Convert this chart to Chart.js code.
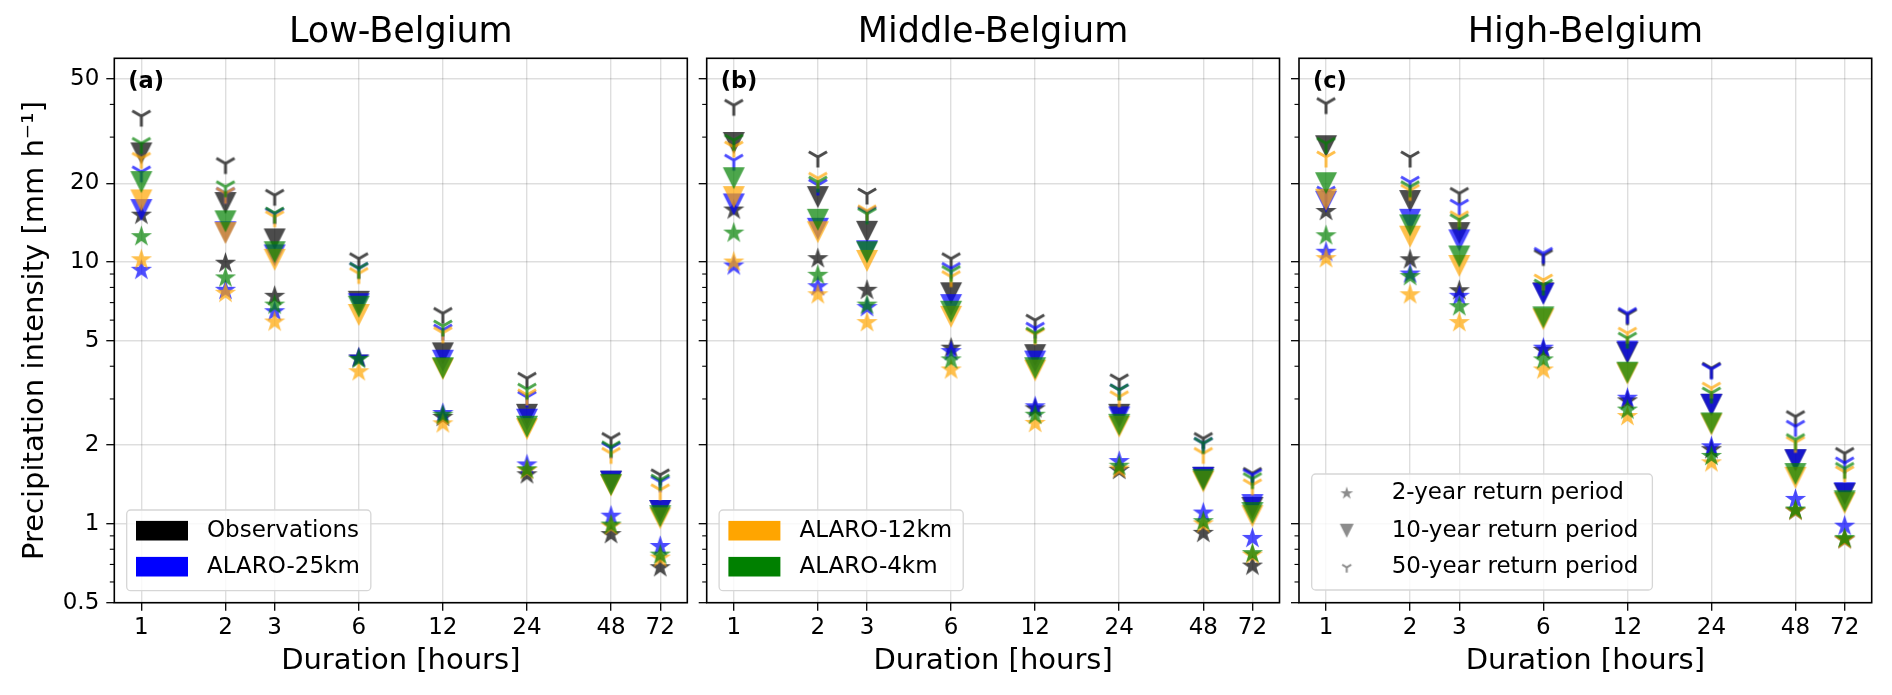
<!DOCTYPE html>
<html>
<head>
<meta charset="utf-8">
<script src="https://cdn.jsdelivr.net/npm/chart.js@4.4.0/dist/chart.umd.min.js"></script>
<style>
html,body{margin:0;padding:0;background:#fff;}
#wrap{position:relative;width:1892px;height:695px;overflow:hidden;background:#fff;}
#wrap canvas{position:absolute;left:0;top:0;}
</style>
</head>
<body>
<div id="wrap">
<canvas id="c1" width="1892" height="695"></canvas>
<canvas id="c2" width="1892" height="695"></canvas>
<canvas id="c3" width="1892" height="695"></canvas>
</div>
<script>
// ---------------- data ----------------
const DURATIONS = [1, 2, 3, 6, 12, 24, 48, 72];
const Y_TICKS = [0.5, 1, 2, 5, 10, 20, 50];
const Y_MINOR_TICKS = [0.6, 0.7, 0.8, 0.9, 3, 4, 6, 7, 8, 9, 30, 40];
const PANEL_TITLES = ['Low-Belgium', 'Middle-Belgium', 'High-Belgium'];
const PANEL_TAGS = ['(a)', '(b)', '(c)'];
const SOURCE_NAMES = ['Observations', 'ALARO-25km', 'ALARO-12km', 'ALARO-4km'];
const RETURN_PERIODS = ['2-year return period', '10-year return period', '50-year return period'];

// Low-Belgium
const LOW_OBS_T2  = [15.1, 9.9, 7.4, 4.3, 2.55, 1.54, 0.91, 0.68];
const LOW_OBS_T10 = [26.0, 16.8, 12.2, 7.05, 4.48, 2.61, 1.45, 1.12];
const LOW_OBS_T50 = [36.1, 23.8, 18.0, 10.3, 6.37, 3.6, 2.12, 1.54];
const LOW_A25_T2  = [9.3, 7.8, 6.46, 4.3, 2.64, 1.68, 1.07, 0.82];
const LOW_A25_T10 = [15.8, 13.0, 10.6, 6.9, 4.2, 2.5, 1.45, 1.12];
const LOW_A25_T50 = [22.1, 18.3, 15.3, 9.46, 5.5, 3.05, 1.95, 1.45];
const LOW_A12_T2  = [10.2, 7.6, 5.9, 3.81, 2.41, 1.6, 0.98, 0.74];
const LOW_A12_T10 = [17.2, 12.9, 10.2, 6.28, 3.9, 2.3, 1.4, 1.05];
const LOW_A12_T50 = [24.9, 18.3, 14.9, 9.05, 5.37, 3.11, 1.86, 1.35];
const LOW_A4_T2   = [12.5, 8.7, 6.85, 4.25, 2.6, 1.61, 0.99, 0.76];
const LOW_A4_T10  = [20.2, 14.3, 10.9, 6.75, 3.93, 2.35, 1.41, 1.07];
const LOW_A4_T50  = [28.4, 19.4, 15.4, 9.46, 5.7, 3.27, 1.97, 1.47];

// Middle-Belgium
const MID_OBS_T2  = [15.8, 10.3, 7.8, 4.69, 2.75, 1.6, 0.92, 0.69];
const MID_OBS_T10 = [28.5, 17.7, 13.05, 7.6, 4.41, 2.61, 1.5, 1.15];
const MID_OBS_T50 = [39.7, 25.2, 18.2, 10.3, 6.0, 3.55, 2.12, 1.56];
const MID_A25_T2  = [9.66, 8.05, 6.7, 4.55, 2.8, 1.73, 1.1, 0.88];
const MID_A25_T10 = [16.6, 13.4, 11.0, 6.85, 4.17, 2.55, 1.5, 1.18];
const MID_A25_T50 = [24.5, 19.7, 15.5, 9.46, 5.59, 3.25, 2.03, 1.54];
const MID_A12_T2  = [10.0, 7.5, 5.87, 3.87, 2.42, 1.62, 1.0, 0.76];
const MID_A12_T10 = [17.7, 13.0, 10.1, 6.18, 3.85, 2.35, 1.45, 1.07];
const MID_A12_T50 = [27.5, 20.9, 15.7, 8.8, 5.3, 3.06, 1.86, 1.41];
const MID_A4_T2   = [12.9, 8.9, 6.85, 4.23, 2.6, 1.66, 1.02, 0.77];
const MID_A4_T10  = [20.9, 14.5, 10.9, 6.46, 3.93, 2.39, 1.47, 1.1];
const MID_A4_T50  = [29.2, 20.2, 15.3, 9.2, 5.35, 3.25, 2.03, 1.49];

// High-Belgium
const HIGH_OBS_T2  = [15.6, 10.2, 7.77, 4.6, 2.95, 1.92, 1.12, 0.87];
const HIGH_OBS_T10 = [27.7, 17.1, 12.9, 7.6, 4.5, 2.85, 1.75, 1.3];
const HIGH_OBS_T50 = [40.3, 25.2, 18.3, 10.6, 6.3, 3.93, 2.57, 1.86];
const HIGH_A25_T2  = [10.9, 9.0, 7.4, 4.69, 3.02, 1.97, 1.24, 0.98];
const HIGH_A25_T10 = [17.0, 14.5, 12.1, 7.56, 4.55, 2.85, 1.75, 1.31];
const HIGH_A25_T50 = [18.5, 20.2, 16.5, 10.8, 6.37, 3.9, 2.36, 1.71];
const HIGH_A12_T2  = [10.3, 7.5, 5.87, 3.87, 2.57, 1.71, 1.12, 0.87];
const HIGH_A12_T10 = [17.3, 12.5, 9.66, 6.05, 3.75, 2.4, 1.5, 1.2];
const HIGH_A12_T50 = [25.2, 18.8, 14.9, 8.54, 5.35, 3.3, 2.05, 1.58];
const HIGH_A4_T2   = [12.6, 8.8, 6.75, 4.23, 2.72, 1.81, 1.13, 0.88];
const HIGH_A4_T10  = [20.0, 13.8, 10.5, 6.15, 3.78, 2.42, 1.55, 1.22];
const HIGH_A4_T50  = [28.4, 19.4, 14.5, 8.17, 5.12, 3.16, 2.1, 1.63];

const PANEL_SERIES = [
  [[LOW_OBS_T2, LOW_OBS_T10, LOW_OBS_T50], [LOW_A25_T2, LOW_A25_T10, LOW_A25_T50],
   [LOW_A12_T2, LOW_A12_T10, LOW_A12_T50], [LOW_A4_T2, LOW_A4_T10, LOW_A4_T50]],
  [[MID_OBS_T2, MID_OBS_T10, MID_OBS_T50], [MID_A25_T2, MID_A25_T10, MID_A25_T50],
   [MID_A12_T2, MID_A12_T10, MID_A12_T50], [MID_A4_T2, MID_A4_T10, MID_A4_T50]],
  [[HIGH_OBS_T2, HIGH_OBS_T10, HIGH_OBS_T50], [HIGH_A25_T2, HIGH_A25_T10, HIGH_A25_T50],
   [HIGH_A12_T2, HIGH_A12_T10, HIGH_A12_T50], [HIGH_A4_T2, HIGH_A4_T10, HIGH_A4_T50]]
];

// ---------------- styles / layout ----------------
const FONT = '"DejaVu Sans", "Liberation Sans", sans-serif';
Chart.defaults.font.family = FONT;
Chart.defaults.color = '#000';

const SOURCE_RGB = [[0,0,0],[0,0,255],[255,165,0],[0,128,0]];
const MARK_ALPHA = 0.7;
const PANEL_LEFT = [114.3, 706.7, 1299.0];
const PANEL_RIGHT = [687.3, 1279.5, 1871.7];
const PLOT_TOP = 58.3, PLOT_BOTTOM = 602.7, W = 1892, H = 695;

function rgba(c, a){ return 'rgba(' + c[0] + ',' + c[1] + ',' + c[2] + ',' + a + ')'; }

function makeStar(color, R){
  const s = Math.ceil(2*R + 4), c = document.createElement('canvas');
  c.width = c.height = s;
  const g = c.getContext('2d'), cx = s/2, cy = s/2;
  g.beginPath();
  for (let i = 0; i < 10; i++) {
    const r = (i % 2) ? R*0.381966 : R, a = -Math.PI/2 + i*Math.PI/5;
    g.lineTo(cx + r*Math.cos(a), cy + r*Math.sin(a));
  }
  g.closePath(); g.fillStyle = color; g.fill();
  return c;
}
function makeTri(color, S){
  const s = Math.ceil(S + 4), c = document.createElement('canvas');
  c.width = c.height = s;
  const g = c.getContext('2d'), cx = s/2, cy = s/2, h = S/2;
  g.beginPath();
  g.moveTo(cx - h, cy - h); g.lineTo(cx + h, cy - h); g.lineTo(cx, cy + h);
  g.closePath(); g.fillStyle = color; g.fill();
  return c;
}
function makeY(color, h, lw){
  const s = Math.ceil(2*h + lw + 4), c = document.createElement('canvas');
  c.width = c.height = s;
  const g = c.getContext('2d'), cx = s/2, cy = s/2;
  g.strokeStyle = color; g.lineWidth = lw; g.lineCap = 'butt';
  g.beginPath();
  g.moveTo(cx, cy + h); g.lineTo(cx, cy);
  g.moveTo(cx - 0.866*h, cy - 0.5*h); g.lineTo(cx, cy);
  g.lineTo(cx + 0.866*h, cy - 0.5*h);
  g.stroke();
  return c;
}
const MARKERS = SOURCE_RGB.map(rgb => {
  const col = rgba(rgb, MARK_ALPHA);
  return [makeStar(col, 11.2), makeTri(col, 22), makeY(col, 10.5, 3)];
});
const LEGEND_GRAY = 'rgba(128,128,128,0.9)';
const LEGEND_MARKERS = [makeStar(LEGEND_GRAY, 6.8), makeTri(LEGEND_GRAY, 14), makeY(LEGEND_GRAY, 5.2, 2)];

function roundRectPath(ctx, x, y, w, h, r){
  ctx.beginPath();
  ctx.moveTo(x + r, y); ctx.lineTo(x + w - r, y); ctx.arcTo(x + w, y, x + w, y + r, r);
  ctx.lineTo(x + w, y + h - r); ctx.arcTo(x + w, y + h, x + w - r, y + h, r);
  ctx.lineTo(x + r, y + h); ctx.arcTo(x, y + h, x, y + h - r, r);
  ctx.lineTo(x, y + r); ctx.arcTo(x, y, x + r, y, r);
  ctx.closePath();
}

const decorPlugin = {
  id: 'decor',
  afterDraw(chart, args, opts) {
    const ctx = chart.ctx, ca = chart.chartArea, ys = chart.scales.y;
    ctx.save();
    // minor y ticks
    ctx.strokeStyle = '#000'; ctx.lineWidth = 1.1;
    Y_MINOR_TICKS.forEach(v => {
      const py = ys.getPixelForValue(v);
      ctx.beginPath(); ctx.moveTo(ca.left - 4.5, py); ctx.lineTo(ca.left, py); ctx.stroke();
    });
    // frame
    ctx.lineWidth = 1.6; ctx.strokeStyle = '#000';
    ctx.strokeRect(ca.left, ca.top, ca.right - ca.left, ca.bottom - ca.top);
    // panel tag
    ctx.font = 'bold 22.5px ' + FONT; ctx.fillStyle = '#000';
    ctx.textAlign = 'left'; ctx.textBaseline = 'middle';
    ctx.fillText(opts.tag, ca.left + 14, ca.top + 23.4);
    // legend
    ctx.font = '23px ' + FONT;
    const items = opts.legend;
    const maxW = Math.max.apply(null, items.map(it => ctx.measureText(it.text).width));
    let bx, by, bw, bh, rows, textX, symX;
    if (opts.legendType === 'patch') {
      bh = 80.7; bw = 80.3 + maxW + 11;
      bx = ca.left + 12.4; by = ca.bottom - 12 - bh;
      rows = [by + 20.7, by + 56.7]; textX = bx + 80.3;
    } else {
      bh = 116; bw = 80 + maxW + 14;
      bx = ca.left + 12.7; by = ca.bottom - 12.7 - bh;
      rows = [by + 19.3, by + 56.7, by + 93.3]; textX = bx + 80; symX = bx + 35;
    }
    roundRectPath(ctx, bx, by, bw, bh, 4);
    ctx.fillStyle = 'rgba(255,255,255,0.8)'; ctx.fill();
    ctx.lineWidth = 1.3; ctx.strokeStyle = '#d6d6d6'; ctx.stroke();
    items.forEach((it, k) => {
      const ry = rows[k];
      if (opts.legendType === 'patch') {
        ctx.fillStyle = it.color; ctx.fillRect(bx + 9.3, ry - 9.8, 52, 19.6);
      } else {
        const m = it.marker;
        ctx.drawImage(m, symX - m.width/2, ry - m.height/2);
      }
      ctx.fillStyle = '#000'; ctx.textAlign = 'left'; ctx.textBaseline = 'middle';
      ctx.fillText(it.text, textX, ry);
    });
    ctx.restore();
  }
};

function buildDatasets(p){
  const ds = [];
  let k = 0;
  PANEL_SERIES[p].forEach((srcSeries, s) => {
    srcSeries.forEach((vals, r) => {
      ds.push({
        label: SOURCE_NAMES[s] + ' ' + RETURN_PERIODS[r],
        data: DURATIONS.map((d, i) => ({x: d, y: vals[i]})),
        pointStyle: MARKERS[s][r],
        pointRadius: 8,
        showLine: false,
        order: 11 - k
      });
      k++;
    });
  });
  return ds;
}

const LEGENDS = [
  {legendType: 'patch', legend: [{text: SOURCE_NAMES[0], color: '#000000'}, {text: SOURCE_NAMES[1], color: '#0000ff'}]},
  {legendType: 'patch', legend: [{text: SOURCE_NAMES[2], color: '#ffa500'}, {text: SOURCE_NAMES[3], color: '#008000'}]},
  {legendType: 'marker', legend: RETURN_PERIODS.map((t, i) => ({text: t, marker: LEGEND_MARKERS[i]}))}
];

const GRID = 'rgba(0,0,0,0.13)';

['c1', 'c2', 'c3'].forEach((id, p) => {
  const yw = p === 0 ? PANEL_LEFT[0] : 10;
  new Chart(document.getElementById(id), {
    type: 'scatter',
    data: {datasets: buildDatasets(p)},
    plugins: [decorPlugin],
    options: {
      responsive: false,
      animation: false,
      events: [],
      layout: {padding: {left: PANEL_LEFT[p] - yw, right: W - PANEL_RIGHT[p], top: 0, bottom: 0}},
      plugins: {
        legend: {display: false},
        tooltip: {enabled: false},
        title: {display: true, text: PANEL_TITLES[p], fullSize: false, color: '#000',
                font: {size: 35, weight: 'normal'}, padding: {top: 12, bottom: 4.3}},
        decor: Object.assign({tag: PANEL_TAGS[p]}, LEGENDS[p])
      },
      scales: {
        x: {
          type: 'logarithmic', position: 'bottom', min: 0.8, max: 90,
          afterBuildTicks: s => { s.ticks = DURATIONS.map(v => ({value: v})); },
          afterFit: s => { s.height = H - PLOT_BOTTOM; },
          ticks: {autoSkip: false, maxRotation: 0, minRotation: 0, padding: 4, color: '#000',
                  font: {size: 23}, callback: v => String(v)},
          grid: {color: GRID, lineWidth: 1.4, tickColor: '#000', tickWidth: 1.3, tickLength: 8},
          border: {display: false},
          title: {display: true, text: 'Duration [hours]', color: '#000', font: {size: 29},
                  padding: {top: 0, bottom: 15.9}}
        },
        y: {
          type: 'logarithmic', position: 'left', min: 0.5, max: 60,
          afterBuildTicks: s => { s.ticks = Y_TICKS.map(v => ({value: v})); },
          afterFit: s => { s.width = yw; },
          ticks: {display: p === 0, autoSkip: false, padding: 7, color: '#000', font: {size: 23},
                  callback: v => (v === 0.5 ? '0.5' : String(v))},
          grid: {color: GRID, lineWidth: 1.4, tickColor: '#000', tickWidth: 1.3, tickLength: 8},
          border: {display: false},
          title: {display: p === 0, text: 'Precipitation intensity [mm h\u207B\u00B9]', color: '#000',
                  font: {size: 29}, padding: {top: 17.6, bottom: 0}}
        }
      }
    }
  });
});
</script>
</body>
</html>
